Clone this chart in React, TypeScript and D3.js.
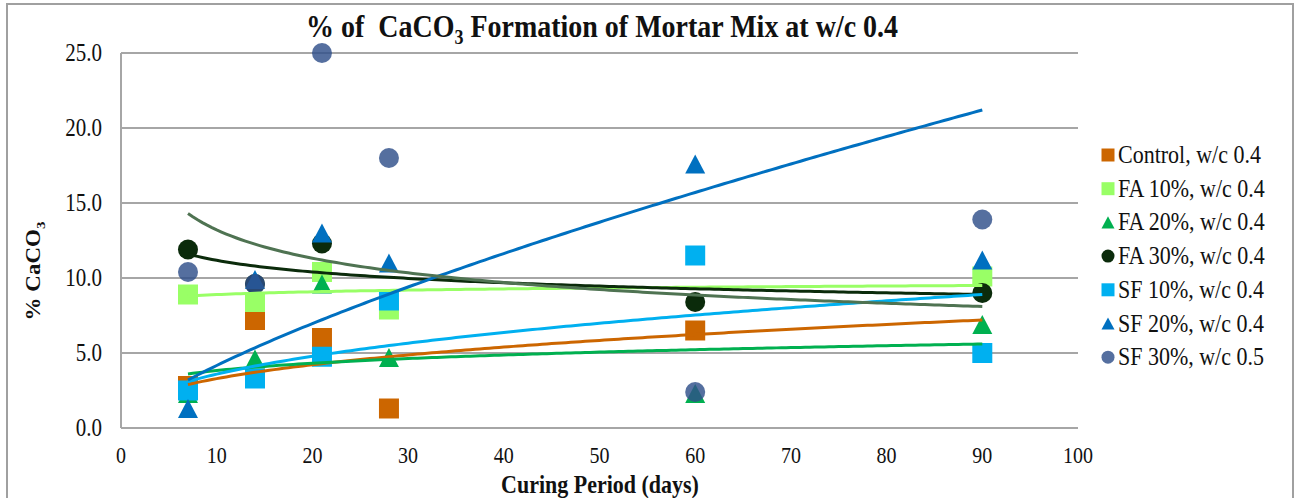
import * as d3 from 'd3';

// curing days and measured % CaCO3 per mix (null = point not visible)
const days = [7, 14, 21, 28, 60, 90];
const seriesNames = [
  'Control, w/c 0.4',
  'FA 10%, w/c 0.4',
  'FA 20%, w/c 0.4',
  'FA 30%, w/c 0.4',
  'SF 10%, w/c 0.4',
  'SF 20%, w/c 0.4',
  'SF 30%, w/c 0.5',
];
const control = [2.8, 7.2, 6.0, 1.3, 6.5, null];
const fa10 = [8.9, 8.4, 10.4, 7.9, null, 10.1];
const fa20 = [2.3, 4.6, 9.6, 4.7, 2.3, 6.9];
const fa30 = [11.9, 9.6, 12.3, null, 8.4, 9.0];
const sf10 = [2.5, 3.3, 4.75, 8.5, 11.5, 5.0];
const sf20 = [1.3, 9.9, 13.0, 11.0, 17.6, 11.2];
const sf30 = [10.4, 9.6, 25.0, 18.0, 2.4, 13.9];

// power trendlines, value read at day 7 and day 90
const trendStart = [2.9, 8.8, 3.6, 11.6, 3.1, 3.2, 14.3];
const trendEnd = [7.2, 9.5, 5.6, 8.9, 8.9, 21.2, 8.1];

const xTicks = [0, 10, 20, 30, 40, 50, 60, 70, 80, 90, 100];
const yTicks = [0, 5, 10, 15, 20, 25];

const allValues = [control, fa10, fa20, fa30, sf10, sf20, sf30];

type Shape = 'square' | 'triangle' | 'circle';
const styles: { fill: string; line: string; shape: Shape; opacity?: number }[] = [
  { fill: '#CC6600', line: '#CC6600', shape: 'square' },
  { fill: '#99FF66', line: '#99FF66', shape: 'square' },
  { fill: '#00B050', line: '#00B050', shape: 'triangle' },
  { fill: '#0B2B0B', line: '#0B2B0B', shape: 'circle' },
  { fill: '#00B0F0', line: '#00B0F0', shape: 'square' },
  { fill: '#0070C0', line: '#0070C0', shape: 'triangle' },
  { fill: '#2F4F8A', line: '#4F7352', shape: 'circle', opacity: 0.82 },
];

const W = 1297;
const H = 498;
const plot = { left: 121, right: 1078, top: 53, bottom: 428 };
const STRETCH = 1.15;
const FONT = '"Liberation Serif", "Times New Roman", serif';

const markerPath = (shape: Shape, size: number) => {
  const h = size / 2;
  if (shape === 'square') return `M${-h},${-h}H${h}V${h}H${-h}Z`;
  if (shape === 'circle') return d3.symbol(d3.symbolCircle, Math.PI * h * h)() as string;
  const th = size * 0.47;
  return `M0,${-th}L${h},${th}L${-h},${th}Z`;
};

const Txt = ({
  x,
  y,
  size,
  anchor = 'start',
  weight = 'normal',
  rotate = 0,
  children,
}: {
  x: number;
  y: number;
  size: number;
  anchor?: string;
  weight?: string;
  rotate?: number;
  children: React.ReactNode;
}) => (
  <g transform={`translate(${x},${y}) scale(1,${STRETCH}) rotate(${rotate})`}>
    <text
      textAnchor={anchor}
      fontSize={size}
      fontWeight={weight}
      fontFamily={FONT}
      fill="#111"
      style={{ whiteSpace: 'pre' }}
    >
      {children}
    </text>
  </g>
);

export default function App() {
  const x = d3.scaleLinear().domain([0, 100]).range([plot.left, plot.right]);
  const y = d3.scaleLinear().domain([0, 25]).range([plot.bottom, plot.top]);
  const fmt = d3.format('.1f');

  const line = d3
    .line<[number, number]>()
    .x((d) => x(d[0]))
    .y((d) => y(d[1]));

  const samples = d3.range(days[0], days[days.length - 1] + 0.01, 0.5);
  const trends = trendStart.map((s, i) => {
    const p = Math.log(trendEnd[i] / s) / Math.log(days[days.length - 1] / days[0]);
    return samples.map((d) => [d, s * Math.pow(d / days[0], p)] as [number, number]);
  });

  return (
    <svg
      width={W}
      height={H}
      style={{ position: 'absolute', left: 0, top: 0, background: '#fff' }}
    >
      <rect x={7} y={4} width={1286} height={520} fill="#fff" stroke="#A0A0A0" strokeWidth={2} />

      {/* title */}
      <Txt x={602} y={37} size={28} anchor="middle" weight="bold">
        {'% of  CaCO'}
        <tspan fontSize={18} dy={6}>
          3
        </tspan>
        <tspan dy={-6}>{' Formation of Mortar Mix at w/c 0.4'}</tspan>
      </Txt>

      {/* grid */}
      {yTicks.map((t) => (
        <line
          key={`g${t}`}
          x1={plot.left}
          x2={plot.right}
          y1={y(t)}
          y2={y(t)}
          stroke="#A6A6A6"
          strokeWidth={2}
        />
      ))}
      <line
        x1={plot.left}
        x2={plot.left}
        y1={plot.top}
        y2={plot.bottom}
        stroke="#A6A6A6"
        strokeWidth={2}
      />

      {yTicks.map((t) => (
        <Txt key={`yt${t}`} x={102} y={y(t) + 8} size={21} anchor="end">
          {fmt(t)}
        </Txt>
      ))}
      {xTicks.map((t) => (
        <Txt key={`xt${t}`} x={x(t)} y={463} size={20} anchor="middle">
          {t}
        </Txt>
      ))}

      <Txt x={600} y={493} size={22} anchor="middle" weight="bold">
        Curing Period (days)
      </Txt>
      <Txt x={40} y={271} size={20} anchor="middle" weight="bold" rotate={-90}>
        {'% CaCO'}
        <tspan fontSize={13} dy={5}>
          3
        </tspan>
      </Txt>

      {/* markers */}
      {allValues.map((vals, i) =>
        vals.map((v, j) =>
          v == null ? null : (
            <path
              key={`m${i}-${j}`}
              d={markerPath(styles[i].shape, 20)}
              transform={`translate(${x(days[j])},${y(v)})`}
              fill={styles[i].fill}
              fillOpacity={styles[i].opacity ?? 1}
            />
          ),
        ),
      )}

      {/* trendlines */}
      {trends.map((pts, i) => (
        <path
          key={`t${i}`}
          d={line(pts) as string}
          fill="none"
          stroke={styles[i].line}
          strokeWidth={3}
        />
      ))}

      {/* legend */}
      {seriesNames.map((name, i) => {
        const cy = 155 + i * 33.7;
        return (
          <g key={`l${i}`}>
            <path
              d={markerPath(styles[i].shape, 13)}
              transform={`translate(1108,${cy})`}
              fill={styles[i].fill}
              fillOpacity={styles[i].opacity ?? 1}
            />
            <Txt x={1118} y={cy + 8} size={22}>
              {name}
            </Txt>
          </g>
        );
      })}
    </svg>
  );
}
